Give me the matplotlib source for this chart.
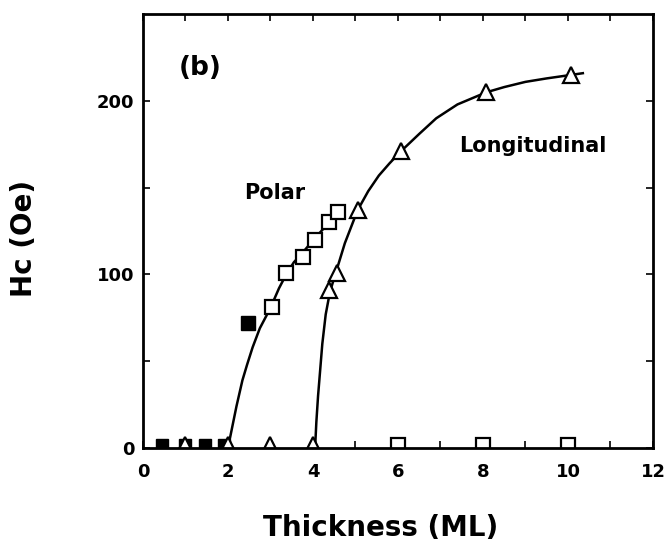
import matplotlib
matplotlib.use("Agg")
import matplotlib.pyplot as plt

# Data
polar_x = [3.04, 3.37, 3.77, 4.05, 4.38, 4.59]
polar_y = [81, 101, 110, 120, 130, 136]
polar_filled_x = [2.48]
polar_filled_y = [72]
polar_zero_filled_x = [0.45, 1.0, 1.45, 1.9]
polar_zero_filled_y = [2, 2, 2, 2]
polar_zero_open_x = [6.0, 8.0, 10.0]
polar_zero_open_y = [2, 2, 2]

long_x = [4.38, 4.57, 5.05, 6.07, 8.08, 10.07]
long_y = [91, 101, 137, 171, 205, 215]
long_zero_x = [1.0, 2.0, 3.0, 4.0]
long_zero_y = [3, 3, 3, 3]

# guide curves
polar_curve_x = [2.0, 2.1, 2.2, 2.34, 2.45, 2.58, 2.75, 2.9, 3.04, 3.2, 3.37, 3.55, 3.77, 4.05, 4.38, 4.65]
polar_curve_y = [0, 12, 24, 39, 48, 58, 69, 76, 83, 92, 100, 107, 113, 121, 130, 138]
long_curve_x = [4.05, 4.08, 4.12, 4.17, 4.22, 4.3, 4.4, 4.55, 4.75, 5.05, 5.3, 5.55, 5.8, 6.07, 6.5, 6.9, 7.4, 8.08, 8.5, 9.0, 9.5, 10.07, 10.35]
long_curve_y = [0, 15, 30, 45, 60, 77, 90, 102, 118, 137, 148, 157, 164, 171, 181, 190, 198, 205, 208, 211, 213, 215, 216]

x_ticks = [0, 2, 4, 6, 8, 10, 12]
y_ticks = [0, 100, 200]

plt.rcParams['font.family'] = ['DejaVu Sans']
plt.rcParams['font.weight'] = 'bold'

fig = plt.figure(figsize=(6.68, 5.46), dpi=100)
ax = fig.add_axes([0.214, 0.1795, 0.7635, 0.7945])

ax.plot(polar_curve_x, polar_curve_y, color='black', lw=1.8, zorder=2)
ax.plot(long_curve_x, long_curve_y, color='black', lw=1.8, zorder=2)

ax.plot(polar_x, polar_y, 's', ms=10, mfc='white', mec='black', mew=1.6, zorder=3)
ax.plot(polar_filled_x, polar_filled_y, 's', ms=10, mfc='black', mec='black', zorder=3)
ax.plot(polar_zero_filled_x, polar_zero_filled_y, 's', ms=9, mfc='black', mec='black', zorder=3)
ax.plot(polar_zero_open_x, polar_zero_open_y, 's', ms=10, mfc='white', mec='black', mew=1.6, zorder=3)
ax.plot(long_x, long_y, '^', ms=12, mfc='white', mec='black', mew=1.6, zorder=3)
ax.plot(long_zero_x, long_zero_y, '^', ms=9, mfc='white', mec='black', mew=1.6, zorder=4)

ax.set_xlim(0, 12)
ax.set_ylim(0, 250)
ax.set_xticks(x_ticks)
ax.set_xticks(range(0, 13), minor=True)
ax.set_yticks(y_ticks)
ax.set_yticks([50, 150], minor=True)
ax.tick_params(which='both', direction='in', top=True, right=True, length=5, width=1.2,
               labelsize=13)
ax.tick_params(axis='x', pad=11)
ax.tick_params(axis='y', pad=6)
for s in ax.spines.values():
    s.set_linewidth(2)
    s.set_zorder(5)

ax.text(1.34, 219, '(b)', fontsize=19, fontweight='bold', ha='center', va='center')
ax.text(3.1, 147, 'Polar', fontsize=15, fontweight='bold', ha='center', va='center')
ax.text(9.18, 174, 'Longitudinal', fontsize=15, fontweight='bold', ha='center', va='center')

fig.text(381 / 668, 1 - 528 / 546, 'Thickness (ML)', fontsize=20, fontweight='bold',
         ha='center', va='center')
fig.text(24 / 668, 1 - 238 / 546, 'Hc (Oe)', fontsize=20, fontweight='bold',
         ha='center', va='center', rotation=90)

fig.savefig('out.png', dpi=100)
